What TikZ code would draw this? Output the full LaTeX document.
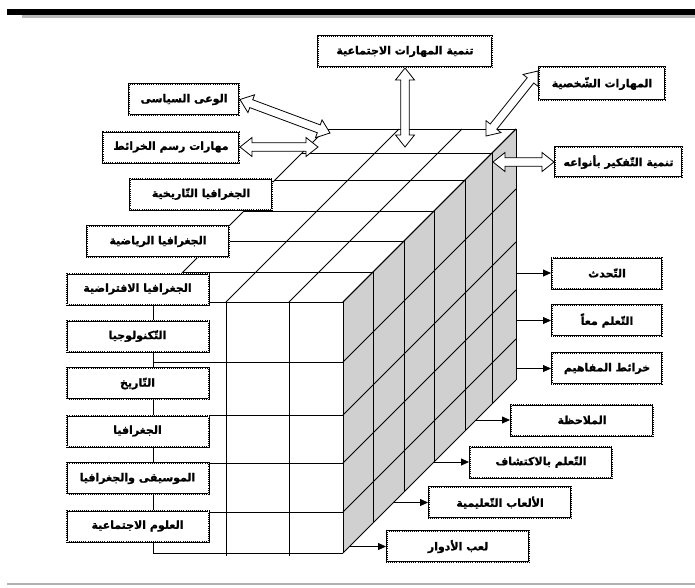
\documentclass[tikz,border=0pt]{standalone}
\usepackage{fontspec}
\newfontfamily\arabicfont[Script=Arabic, FakeBold=1.2]{DejaVu Sans Bold}
\TeXXeTstate=1
\usetikzlibrary{calc,arrows.meta}
\definecolor{facegray}{RGB}{208,208,208}
\newcommand{\ar}[1]{\beginR #1\endR}
\newcommand{\hollowarrow}[2]{%
  \draw[line width=0.8pt, fill=white, line join=miter] let \p1=($(#2)-(#1)$), \n1={atan2(\y1,\x1)} in
   (#1) -- ($(#1)+(\n1:12pt)+(\n1+90:9.5pt)$) -- ($(#1)+(\n1:12pt)+(\n1+90:4.2pt)$)
   -- ($(#2)+(\n1+180:12pt)+(\n1+90:4.2pt)$) -- ($(#2)+(\n1+180:12pt)+(\n1+90:9.5pt)$)
   -- (#2) -- ($(#2)+(\n1+180:12pt)+(\n1-90:9.5pt)$) -- ($(#2)+(\n1+180:12pt)+(\n1-90:4.2pt)$)
   -- ($(#1)+(\n1:12pt)+(\n1-90:4.2pt)$) -- ($(#1)+(\n1:12pt)+(\n1-90:9.5pt)$) -- cycle;
}
\begin{document}
\begin{tikzpicture}[x=1pt,y=-1pt,
  lbl/.style={draw=black, line width=2pt, fill=white, minimum height=31pt,
    inner sep=0pt, font=\arabicfont\fontsize{11}{13}\selectfont,
    postaction={draw=white,line width=0.35pt,dash pattern=on 0.4pt off 1.5pt}},
  gridline/.style={line width=0.8pt, draw=black},
  arr/.style={line width=0.8pt, -{Triangle[length=8pt,width=7pt]}}
]
\useasboundingbox (0,0) rectangle (695,587);
% top bar and bottom line
\fill[gray!55] (22,15) rectangle (695,17.5);
\fill[black] (7,9) rectangle (695,15);
\draw[gray!60, line width=1.2pt] (7,584) -- (695,584);

% faces
\fill[white] (153,302) -- (326,129) -- (516,129) -- (343,302) -- cycle;
\fill[facegray] (343,302) -- (516,129) -- (516,380) -- (343,553) -- cycle;

% right face
\foreach \o in {0,30,61,91,122,149,173}
  \draw[gridline] (343+\o,302-\o) -- (343+\o,553-\o);
\foreach \r in {302,362,415,463,512,553}
  \draw[gridline] (343,\r) -- ++(173,-173);
% top face
\foreach \c in {153,226,289,343}
  \draw[gridline] (\c,302) -- ++(173,-173);
\foreach \o in {0,30,61,91,122,149,173}
  \draw[gridline] (153+\o,302-\o) -- (343+\o,302-\o);
% front face
\foreach \r in {302,362,415,463,512,553}
  \draw[gridline] (153,\r) -- (343,\r);
\draw[gridline] (153,302) -- (153,553);
\draw[gridline] (226,302) -- (226,556);
\draw[gridline] (289,302) -- (289,556);

% left labels
\node[lbl, minimum width=142pt] (gt) at (201,194) {\ar{الجغرافيا التّاريخية}};
\node[lbl, minimum width=142pt] (gr) at (158,241.5) {\ar{الجغرافيا الرياضية}};
\node[lbl, minimum width=142pt] (gf) at (137.5,289) {\ar{الجغرافيا الافتراضية}};
\node[lbl, minimum width=142pt] (tk) at (137.5,336) {\ar{التّكنولوجيا}};
\node[lbl, minimum width=142pt] (th) at (137.5,383.5) {\ar{التّاريخ}};
\node[lbl, minimum width=142pt] (jg) at (137.5,431) {\ar{الجغرافيا}};
\node[lbl, minimum width=142pt] (mj) at (137.5,478.5) {\ar{الموسيقى والجغرافيا}};
\node[lbl, minimum width=142pt] (ul) at (137.5,526) {\ar{العلوم الاجتماعية}};

% top labels
\node[lbl, minimum width=110pt] (wa) at (184,99.5) {\ar{الوعى السياسى}};
\node[lbl, minimum width=136pt] (mr) at (171,147) {\ar{مهارات رسم الخرائط}};
\node[lbl, minimum width=174pt] (tm) at (405,51.5) {\ar{تنمية المهارات الاجتماعية}};
\node[lbl, minimum width=126pt, minimum height=33pt] (ms) at (602,83.5) {\ar{المهارات الشّخصية}};
\node[lbl, minimum width=127pt, minimum height=30pt] (tf) at (618.5,162) {\ar{تنمية التّفكير بأنواعه}};

% right labels
\node[lbl, minimum width=110pt] (r1) at (607,273) {\ar{التّحدث}};
\node[lbl, minimum width=110pt] (r2) at (607,320.5) {\ar{التّعلم معاً}};
\node[lbl, minimum width=110pt] (r3) at (607,368.5) {\ar{خرائط المفاهيم}};
\node[lbl, minimum width=142pt] (r4) at (582,420) {\ar{الملاحظة}};
\node[lbl, minimum width=142pt] (r5) at (541,462) {\ar{التّعلم بالاكتشاف}};
\node[lbl, minimum width=142pt] (r6) at (500,502.5) {\ar{الألعاب التّعليمية}};
\node[lbl, minimum width=142pt] (r7) at (458,546.5) {\ar{لعب الأدوار}};

% connector coordinates on the block
\coordinate (c1) at (516,273);
\coordinate (c2) at (516,320.5);
\coordinate (c3) at (516,368.5);
\coordinate (c4) at (476,420);
\coordinate (c5) at (434,462);
\coordinate (c6) at (394,502.5);
\coordinate (c7) at (350,546.5);
\draw[arr] (c1) -- (r1.west);
\draw[arr] (c2) -- (r2.west);
\draw[arr] (c3) -- (r3.west);
\draw[arr] (c4) -- (r4.west);
\draw[arr] (c5) -- (r5.west);
\draw[arr] (c6) -- (r6.west);
\draw[arr] (c7) -- (r7.west);

% hollow double arrows
\coordinate (a1) at (330,133);
\coordinate (a2) at (318,147);
\coordinate (a3) at (405,147);
\coordinate (a4) at (486,136);
\coordinate (a4b) at (538,71);
\coordinate (a5) at (493,162);
\hollowarrow{wa.east}{a1}
\hollowarrow{mr.east}{a2}
\hollowarrow{tm.south}{a3}
\hollowarrow{a4b}{a4}
\hollowarrow{tf.west}{a5}
\end{tikzpicture}
\end{document}
